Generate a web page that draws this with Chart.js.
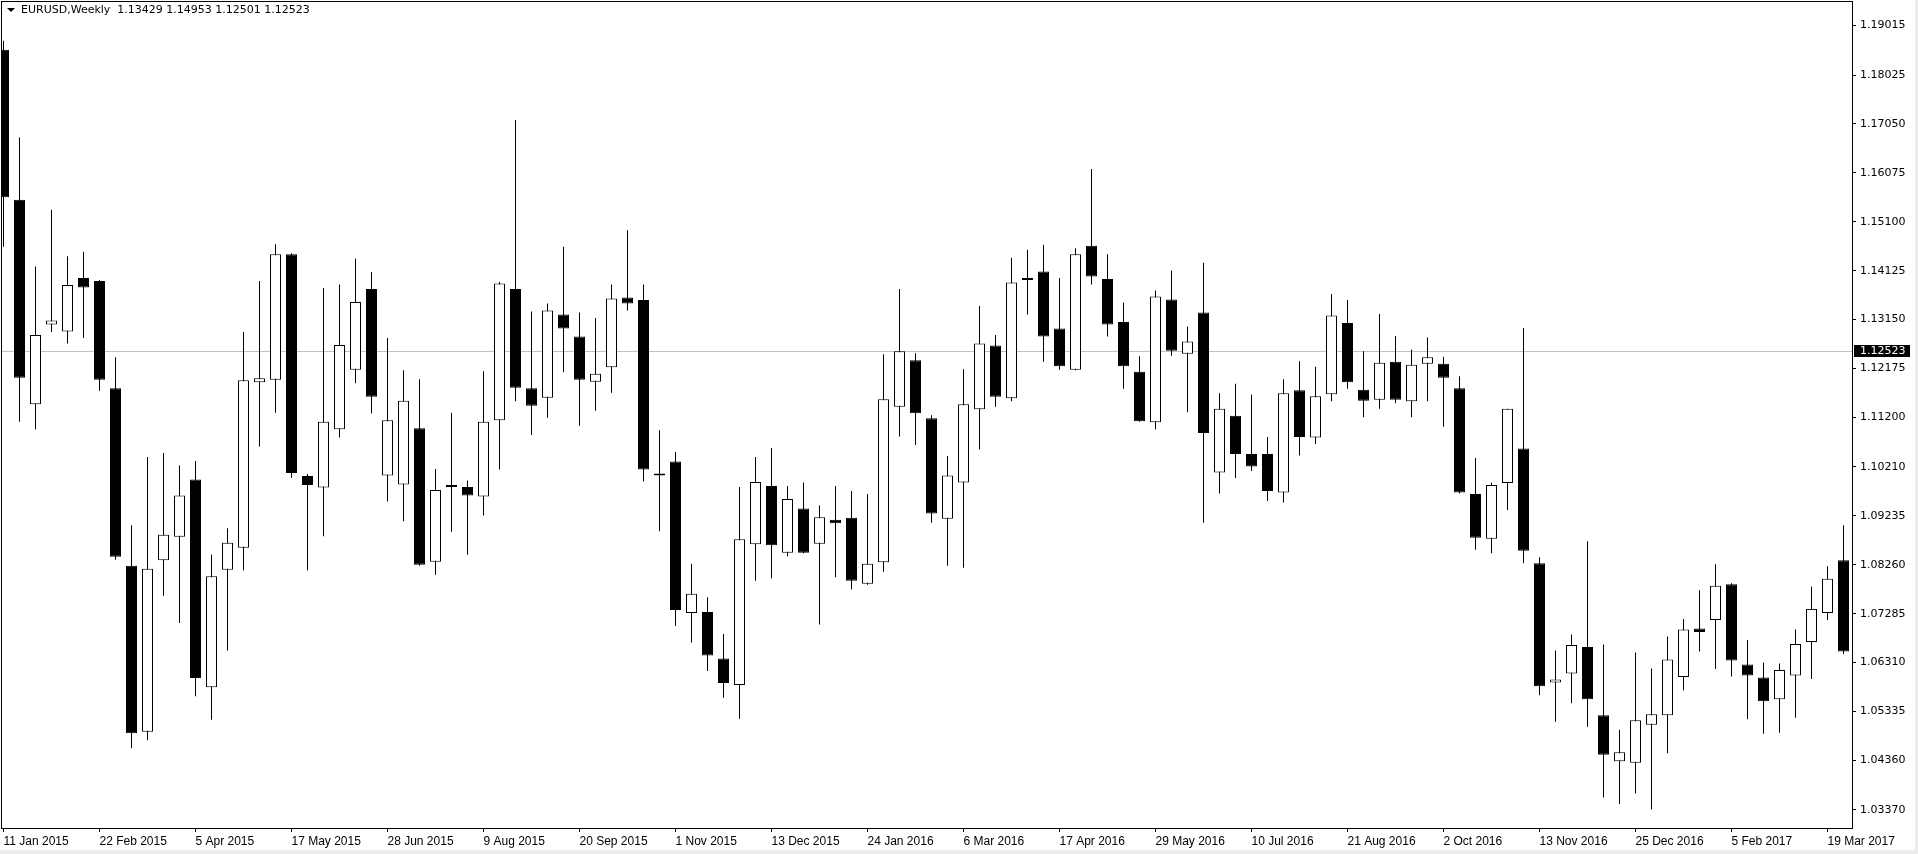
<!DOCTYPE html>
<html>
<head>
<meta charset="utf-8">
<title>EURUSD,Weekly</title>
<script src="https://cdn.jsdelivr.net/npm/chart.js@4.4.1/dist/chart.umd.min.js"></script>
<style>
  html, body { margin: 0; padding: 0; background: #fff; }
  #wrap { position: relative; width: 1918px; height: 854px; overflow: hidden; }
  #header {
    position: absolute; left: 21px; top: 3px;
    font: 11px "DejaVu Sans", Verdana, sans-serif; line-height: 13px;
    color: #000; white-space: pre;
  }
  #arrow {
    position: absolute; left: 7px; top: 8px; width: 0; height: 0;
    border-left: 4px solid transparent; border-right: 4px solid transparent;
    border-top: 4px solid #000;
  }
  #edgeBottom { position: absolute; left: 0; top: 850px; width: 1918px; height: 4px; background: #ededed; }
  #edgeRight { position: absolute; left: 1915px; top: 0; width: 3px; height: 854px; background: #ededed; }
</style>
</head>
<body>
<div id="wrap">
  <canvas id="chart"></canvas>
  <div id="arrow"></div>
  <div id="header"></div>
  <div id="edgeBottom"></div>
  <div id="edgeRight"></div>
</div>
<script>
// weekly EURUSD candles, week of 11 Jan 2015 .. week of 26 Mar 2017
const OPEN = [
  1.1853, 1.1554, 1.1146, 1.1305, 1.1291, 1.1398, 1.1392, 1.1178, 1.0824, 1.0493,
  1.0835, 1.0882, 1.0996, 1.0582, 1.0816, 1.0860, 1.1190, 1.1195, 1.1445, 1.1003,
  1.0980, 1.1096, 1.1215, 1.1376, 1.1004, 1.0986, 1.1098, 1.0832, 1.0983, 1.0981,
  1.0962, 1.1114, 1.1376, 1.1178, 1.1159, 1.1325, 1.1281, 1.1191, 1.1220, 1.1359,
  1.1354, 1.1006, 1.1032, 1.0730, 1.0732, 1.0639, 1.0586, 1.0867, 1.0983, 1.0850,
  1.0938, 1.0868, 1.0916, 1.0920, 1.0788, 1.0831, 1.1141, 1.1234, 1.1118, 1.0918,
  1.0990, 1.1136, 1.1263, 1.1158, 1.1398, 1.1411, 1.1297, 1.1215, 1.1462, 1.1396,
  1.1310, 1.1211, 1.1110, 1.1355, 1.1247, 1.1329, 1.1010, 1.1123, 1.1047, 1.1047,
  1.0970, 1.1174, 1.1080, 1.1166, 1.1308, 1.1175, 1.1155, 1.1231, 1.1152, 1.1227,
  1.1227, 1.1178, 1.0967, 1.0878, 1.0989, 1.1058, 1.0829, 1.0591, 1.0609, 1.0662,
  1.0526, 1.0434, 1.0431, 1.0507, 1.0526, 1.0602, 1.0699, 1.0716, 1.0787, 1.0627,
  1.0601, 1.0558, 1.0605, 1.0672, 1.0730, 1.0835
];
const HIGH = [
  1.1871, 1.1678, 1.1421, 1.1534, 1.1441, 1.1450, 1.1394, 1.1240, 1.0905, 1.1041,
  1.1049, 1.1024, 1.1033, 1.0846, 1.0899, 1.1290, 1.1392, 1.1465, 1.1447, 1.1007,
  1.1378, 1.1385, 1.1436, 1.1410, 1.1278, 1.1214, 1.1196, 1.1017, 1.1129, 1.0994,
  1.1212, 1.1390, 1.1713, 1.1331, 1.1347, 1.1460, 1.1329, 1.1318, 1.1385, 1.1493,
  1.1385, 1.1094, 1.1051, 1.0828, 1.0761, 1.0688, 1.0981, 1.1041, 1.1059, 1.0983,
  1.0990, 1.0944, 1.0983, 1.0973, 1.0967, 1.1246, 1.1376, 1.1248, 1.1124, 1.1043,
  1.1216, 1.1342, 1.1284, 1.1438, 1.1454, 1.1464, 1.1398, 1.1457, 1.1615, 1.1445,
  1.1349, 1.1242, 1.1373, 1.1413, 1.1301, 1.1428, 1.1168, 1.1187, 1.1165, 1.1081,
  1.1196, 1.1232, 1.1221, 1.1366, 1.1354, 1.1252, 1.1326, 1.1282, 1.1255, 1.1279,
  1.1241, 1.1202, 1.1039, 1.0990, 1.1137, 1.1298, 1.0841, 1.0655, 1.0687, 1.0873,
  1.0667, 1.0497, 1.0651, 1.0619, 1.0683, 1.0718, 1.0775, 1.0827, 1.0789, 1.0676,
  1.0631, 1.0629, 1.0697, 1.0782, 1.0823, 1.0905
];
const LOW = [
  1.1460, 1.1111, 1.1096, 1.1290, 1.1267, 1.1278, 1.1173, 1.0836, 1.0460, 1.0476,
  1.0764, 1.0710, 1.0564, 1.0517, 1.0655, 1.0815, 1.1062, 1.1129, 1.0999, 1.0815,
  1.0883, 1.1080, 1.1188, 1.1128, 1.0952, 1.0913, 1.0824, 1.0806, 1.0892, 1.0846,
  1.0924, 1.1016, 1.1152, 1.1085, 1.1119, 1.1210, 1.1103, 1.1133, 1.1169, 1.1333,
  1.0992, 1.0893, 1.0704, 1.0671, 1.0614, 1.0561, 1.0519, 1.0794, 1.0799, 1.0843,
  1.0849, 1.0707, 1.0801, 1.0777, 1.0786, 1.0812, 1.1082, 1.1065, 1.0910, 1.0824,
  1.0820, 1.1056, 1.1141, 1.1152, 1.1325, 1.1231, 1.1215, 1.1214, 1.1385, 1.1281,
  1.1177, 1.1111, 1.1096, 1.1243, 1.1130, 1.0910, 1.0968, 1.0999, 1.1013, 1.0953,
  1.0950, 1.1044, 1.1067, 1.1152, 1.1177, 1.1120, 1.1137, 1.1148, 1.1120, 1.1152,
  1.1101, 1.0968, 1.0856, 1.0849, 1.0935, 1.0829, 1.0566, 1.0513, 1.0550, 1.0503,
  1.0362, 1.0349, 1.0370, 1.0338, 1.0450, 1.0576, 1.0653, 1.0618, 1.0603, 1.0518,
  1.0489, 1.0491, 1.0521, 1.0598, 1.0716, 1.0648
];
const CLOSE = [
  1.1559, 1.1199, 1.1284, 1.1313, 1.1384, 1.1379, 1.1195, 1.0842, 1.0490, 1.0818,
  1.0886, 1.0964, 1.0600, 1.0803, 1.0870, 1.1194, 1.1198, 1.1445, 1.1009, 1.0985,
  1.1111, 1.1264, 1.1350, 1.1161, 1.1114, 1.1153, 1.0826, 1.0975, 1.0981, 1.0964,
  1.1111, 1.1387, 1.1179, 1.1143, 1.1333, 1.1297, 1.1195, 1.1207, 1.1357, 1.1347,
  1.1016, 1.1004, 1.0736, 1.0768, 1.0645, 1.0590, 1.0877, 1.0991, 1.0865, 1.0957,
  1.0850, 1.0921, 1.0909, 1.0794, 1.0828, 1.1156, 1.1252, 1.1128, 1.0928, 1.1004,
  1.1146, 1.1267, 1.1161, 1.1389, 1.1394, 1.1281, 1.1222, 1.1445, 1.1401, 1.1305,
  1.1222, 1.1112, 1.1361, 1.1253, 1.1271, 1.1089, 1.1137, 1.1047, 1.1022, 1.0973,
  1.1168, 1.1081, 1.1162, 1.1323, 1.1190, 1.1153, 1.1229, 1.1155, 1.1225, 1.1240,
  1.1199, 1.0970, 1.0880, 1.0985, 1.1137, 1.0854, 1.0584, 1.0597, 1.0666, 1.0558,
  1.0447, 1.0452, 1.0516, 1.0528, 1.0637, 1.0697, 1.0692, 1.0784, 1.0635, 1.0605,
  1.0554, 1.0616, 1.0668, 1.0738, 1.0798, 1.0653
];

// bottom time scale: one label every 6 weeks
const AXIS_DATES = [
  '11 Jan 2015', '22 Feb 2015', '5 Apr 2015', '17 May 2015', '28 Jun 2015',
  '9 Aug 2015', '20 Sep 2015', '1 Nov 2015', '13 Dec 2015', '24 Jan 2016',
  '6 Mar 2016', '17 Apr 2016', '29 May 2016', '10 Jul 2016', '21 Aug 2016',
  '2 Oct 2016', '13 Nov 2016', '25 Dec 2016', '5 Feb 2017', '19 Mar 2017'
];
const TICK_STEP = 6;

// right price scale
const PRICE_TICKS = [
  1.19015, 1.18025, 1.17050, 1.16075, 1.15100, 1.14125, 1.13150, 1.12175, 1.11200,
  1.10210, 1.09235, 1.08260, 1.07285, 1.06310, 1.05335, 1.04360, 1.03370
];
const PRICE_MIN = 1.02991;
const PRICE_MAX = 1.19502;

const SYMBOL = 'EURUSD,Weekly';
const LAST_BAR = [1.13429, 1.14953, 1.12501, 1.12523];
const LAST_PRICE = 1.12523;

document.getElementById('header').textContent =
  SYMBOL + '  ' + LAST_BAR.map(v => v.toFixed(5)).join(' ');

const wicks = LOW.map((l, i) => ({ x: i, y: [l, HIGH[i]] }));
const bodies = OPEN.map((o, i) => ({ x: i, y: [o, CLOSE[i]] }));
const isBull = i => CLOSE[i] > OPEN[i];

// price line, frame and the price tag on the scale
const terminalLook = {
  id: 'terminalLook',
  beforeDatasetsDraw(chart) {
    const { ctx, chartArea: a } = chart;
    const py = Math.round(chart.scales.y.getPixelForValue(LAST_PRICE)) + 0.5;
    ctx.save();
    ctx.strokeStyle = '#c0c0c0';
    ctx.lineWidth = 1;
    ctx.beginPath();
    ctx.moveTo(a.left, py);
    ctx.lineTo(a.right, py);
    ctx.stroke();
    ctx.restore();
  },
  afterDraw(chart) {
    const { ctx, chartArea: a } = chart;
    const py = Math.round(chart.scales.y.getPixelForValue(LAST_PRICE));
    ctx.save();
    ctx.strokeStyle = '#000';
    ctx.lineWidth = 1;
    ctx.strokeRect(a.left + 0.5, a.top + 0.5, a.right - a.left - 1, a.bottom - a.top - 1);
    ctx.fillStyle = '#000';
    ctx.fillRect(a.right + 1, py - 6, 56, 12);
    ctx.fillStyle = '#fff';
    ctx.font = '11px "DejaVu Sans", Verdana, sans-serif';
    ctx.textBaseline = 'middle';
    ctx.fillText(LAST_PRICE.toFixed(5), a.right + 7, py + 0.5);
    ctx.restore();
  }
};

new Chart(document.getElementById('chart'), {
  type: 'bar',
  data: {
    datasets: [
      {
        label: 'body',
        data: bodies,
        order: 0,
        grouped: false,
        barThickness: 11,
        minBarLength: 2,
        inflateAmount: 0,
        borderSkipped: false,
        borderWidth: 1,
        borderColor: '#000',
        backgroundColor: ctx => isBull(ctx.dataIndex) ? '#fff' : '#000'
      },
      {
        label: 'wick',
        data: wicks,
        order: 1,
        grouped: false,
        barThickness: 1,
        inflateAmount: 0,
        borderWidth: 0,
        backgroundColor: '#000'
      }
    ]
  },
  options: {
    responsive: true,
    maintainAspectRatio: false,
    animation: false,
    layout: { padding: { top: 1, left: 1, right: 0, bottom: 0 } },
    plugins: { legend: { display: false }, tooltip: { enabled: false } },
    scales: {
      x: {
        type: 'linear',
        position: 'bottom',
        offset: false,
        min: -0.15625,
        max: 115.59375,
        afterBuildTicks: s => { s.ticks = AXIS_DATES.map((d, k) => ({ value: k * TICK_STEP })); },
        afterFit: s => { s.height = 25; s.paddingLeft = 0; s.paddingRight = 0; },
        grid: { drawOnChartArea: false, drawTicks: true, tickLength: 3, color: '#000', offset: false },
        border: { display: false },
        ticks: {
          autoSkip: false,
          maxRotation: 0,
          align: 'start',
          padding: 2,
          color: '#000',
          font: { family: '"Liberation Sans", Arial, sans-serif', size: 12 },
          callback: v => AXIS_DATES[Math.round(v / TICK_STEP)]
        }
      },
      y: {
        type: 'linear',
        position: 'right',
        min: PRICE_MIN,
        max: PRICE_MAX,
        afterBuildTicks: s => { s.ticks = PRICE_TICKS.map(v => ({ value: v })); },
        afterFit: s => { s.width = 65; s.paddingTop = 0; s.paddingBottom = 0; },
        grid: { drawOnChartArea: false, drawTicks: true, tickLength: 3, color: '#000' },
        border: { display: false },
        ticks: {
          padding: 4,
          color: '#000',
          font: { family: '"DejaVu Sans", Verdana, sans-serif', size: 11 },
          callback: v => v.toFixed(5)
        }
      }
    }
  },
  plugins: [terminalLook]
});
</script>
</body>
</html>
